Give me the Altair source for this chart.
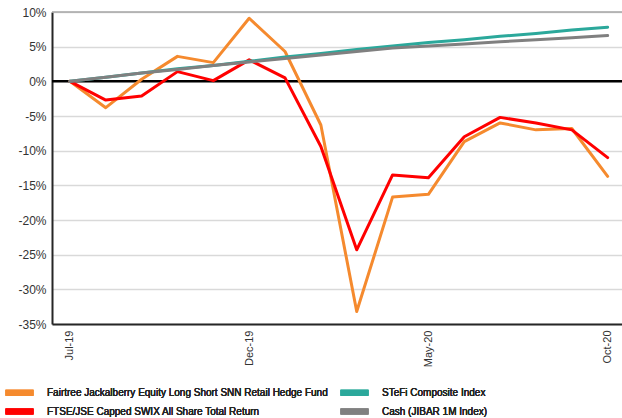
import altair as alt
import pandas as pd

months = ["Jul-19", "Aug-19", "Sep-19", "Oct-19", "Nov-19", "Dec-19", "Jan-20", "Feb-20",
          "Mar-20", "Apr-20", "May-20", "Jun-20", "Jul-20", "Aug-20", "Sep-20", "Oct-20"]
fund = [0.0, -3.8, 0.3, 3.6, 2.7, 9.1, 4.3, -6.3, -33.2, -16.7, -16.3, -8.7, -6.0, -7.0, -6.8, -13.7]
ftse = [0.0, -2.7, -2.1, 1.4, 0.1, 3.1, 0.5, -9.4, -24.3, -13.5, -13.9, -8.0, -5.2, -6.0, -7.0, -11.0]
stefi = [0.0, 0.6, 1.2, 1.8, 2.3, 2.9, 3.5, 4.0, 4.6, 5.1, 5.6, 6.0, 6.5, 6.9, 7.4, 7.8]
cash = [0.0, 0.6, 1.2, 1.7, 2.3, 2.8, 3.3, 3.8, 4.3, 4.8, 5.1, 5.4, 5.7, 6.0, 6.3, 6.6]

series_names = ["Fairtree Jackalberry Equity Long Short SNN Retail Hedge Fund",
                "FTSE/JSE Capped SWIX All Share Total Return",
                "STeFi Composite Index",
                "Cash (JIBAR 1M Index)"]
series_values = [fund, ftse, stefi, cash]
series_colors = ["#F58A2E", "#FF0000", "#2BA89B", "#808080"]

y_ticks = [-35, -30, -25, -20, -15, -10, -5, 0, 5, 10]
x_tick_idx = [0, 5, 10, 15]
ref_levels = [10, 0]
ref_colors = ["#a6a6a6", "#000000"]
ref_widths = [1.5, 2.5]

rows = []
for name, vals in zip(series_names, series_values):
    for i, (m, v) in enumerate(zip(months, vals)):
        rows.append({"series": name, "idx": i, "month": m, "value": v})
df = pd.DataFrame(rows)
ref_df = pd.DataFrame({"value": ref_levels, "c": ref_colors, "w": ref_widths})

FONT = "Liberation Sans"
label_expr = "[" + ",".join("'%s'" % m for m in months) + "][datum.value]"

x_enc = alt.X("idx:Q",
              scale=alt.Scale(domain=[-0.5, 15.4], nice=False, zero=False),
              axis=alt.Axis(values=x_tick_idx, labelExpr=label_expr, labelAngle=-90,
                            title=None, grid=False, ticks=False, domainColor="#262626",
                            domainWidth=2, labelFont=FONT, labelFontSize=11,
                            labelColor="#333333", labelPadding=6, labelOverlap=False))
y_scale = alt.Scale(domain=[-35, 10], nice=False)
y_axis = alt.Axis(values=y_ticks, labelExpr="datum.value + '%'", title=None,
                  ticks=False, domainColor="#262626", domainWidth=2,
                  gridColor="#d9d9d9", gridWidth=1.5, labelFont=FONT, labelFontSize=12,
                  labelColor="#333333", labelPadding=6, labelOverlap=False,
                  tickCount=len(y_ticks))
y_enc = alt.Y("value:Q", scale=y_scale, axis=y_axis)

color_enc = alt.Color("series:N",
                      scale=alt.Scale(domain=series_names, range=series_colors),
                      legend=alt.Legend(orient="none", legendX=-53, legendY=374, columns=2,
                                        title=None, symbolType="M-4,0H4", symbolSize=49,
                                        symbolStrokeWidth=6, symbolOffset=14,
                                        labelOffset=21, labelFont=FONT, labelFontSize=10,
                                        labelColor="#262626", columnPadding=0,
                                        rowPadding=-9, labelLimit=400))

refs = alt.Chart(ref_df).mark_rule().encode(
    y=y_enc,
    color=alt.Color("c:N", scale=None),
    strokeWidth=alt.StrokeWidth("w:Q", scale=None),
)

layers = [refs]
for name in series_names:
    layers.append(
        alt.Chart(df).transform_filter(alt.datum.series == name)
        .mark_line(strokeWidth=3, strokeCap="round", strokeJoin="round")
        .encode(x=x_enc, y=y_enc, color=color_enc)
    )

chart = alt.layer(*layers).resolve_scale(color="independent").properties(
    width=570, height=312,
    padding={"left": 52, "top": 12, "right": 0, "bottom": 94},
    autosize="none",
).configure_view(stroke=None).configure(background="white")

chart.save("out.html", embed_options={"renderer": "svg", "actions": False})
